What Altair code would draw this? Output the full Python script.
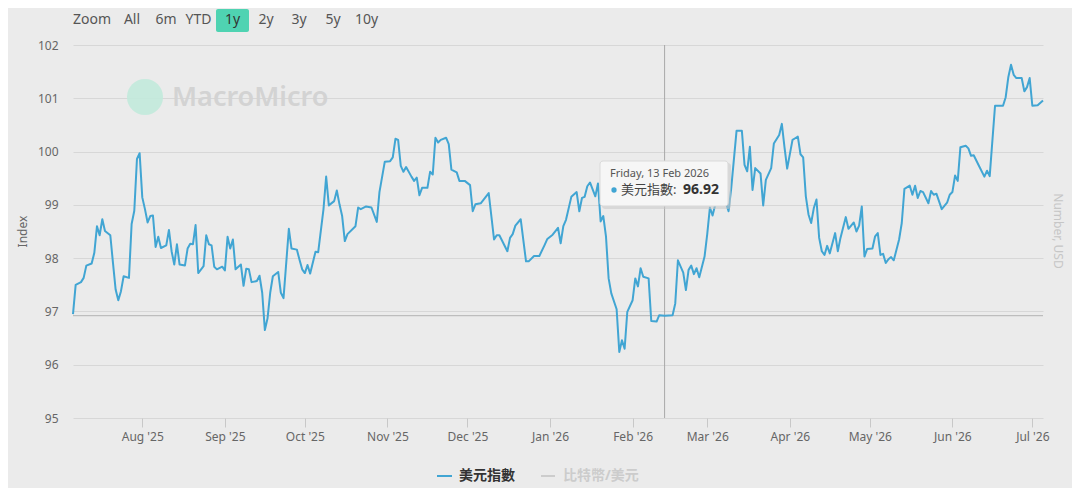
import altair as alt
import pandas as pd

# ---------------- data ----------------
dates = [
    "2025-07-06", "2025-07-07", "2025-07-09", "2025-07-10", "2025-07-11", "2025-07-13", "2025-07-14",
    "2025-07-15", "2025-07-16", "2025-07-17", "2025-07-18", "2025-07-20", "2025-07-21", "2025-07-22",
    "2025-07-23", "2025-07-24", "2025-07-25", "2025-07-27", "2025-07-28", "2025-07-29", "2025-07-30",
    "2025-07-31", "2025-08-01", "2025-08-02", "2025-08-03", "2025-08-04", "2025-08-05", "2025-08-06",
    "2025-08-07", "2025-08-08", "2025-08-10", "2025-08-11", "2025-08-12", "2025-08-13", "2025-08-14",
    "2025-08-15", "2025-08-17", "2025-08-18", "2025-08-19", "2025-08-20", "2025-08-21", "2025-08-22",
    "2025-08-24", "2025-08-25", "2025-08-26", "2025-08-27", "2025-08-28", "2025-08-29", "2025-08-31",
    "2025-09-01", "2025-09-02", "2025-09-03", "2025-09-04", "2025-09-05", "2025-09-07", "2025-09-08",
    "2025-09-09", "2025-09-10", "2025-09-11", "2025-09-13", "2025-09-14", "2025-09-15", "2025-09-16",
    "2025-09-17", "2025-09-18", "2025-09-19", "2025-09-21", "2025-09-22", "2025-09-23", "2025-09-25",
    "2025-09-26", "2025-09-28", "2025-09-29", "2025-09-30", "2025-10-01", "2025-10-02", "2025-10-03",
    "2025-10-05", "2025-10-06", "2025-10-08", "2025-10-09", "2025-10-10", "2025-10-12", "2025-10-13",
    "2025-10-14", "2025-10-15", "2025-10-16", "2025-10-17", "2025-10-20", "2025-10-21", "2025-10-22",
    "2025-10-24", "2025-10-26", "2025-10-28", "2025-10-29", "2025-10-31", "2025-11-02", "2025-11-03",
    "2025-11-04", "2025-11-05", "2025-11-06", "2025-11-07", "2025-11-08", "2025-11-10", "2025-11-11",
    "2025-11-12", "2025-11-13", "2025-11-14", "2025-11-16", "2025-11-17", "2025-11-18", "2025-11-19",
    "2025-11-20", "2025-11-21", "2025-11-23", "2025-11-24", "2025-11-25", "2025-11-27", "2025-11-28",
    "2025-11-30", "2025-12-02", "2025-12-03", "2025-12-04", "2025-12-06", "2025-12-09", "2025-12-11",
    "2025-12-12", "2025-12-13", "2025-12-16", "2025-12-17", "2025-12-18", "2025-12-19", "2025-12-21",
    "2025-12-23", "2025-12-24", "2025-12-26", "2025-12-28", "2025-12-30", "2025-12-31", "2026-01-02",
    "2026-01-04", "2026-01-05", "2026-01-06", "2026-01-07", "2026-01-09", "2026-01-11", "2026-01-12",
    "2026-01-13", "2026-01-14", "2026-01-15", "2026-01-16", "2026-01-17", "2026-01-18", "2026-01-19",
    "2026-01-20", "2026-01-21", "2026-01-22", "2026-01-23", "2026-01-24", "2026-01-26", "2026-01-27",
    "2026-01-28", "2026-01-29", "2026-01-30", "2026-02-01", "2026-02-02", "2026-02-03", "2026-02-04",
    "2026-02-05", "2026-02-07", "2026-02-08", "2026-02-10", "2026-02-11", "2026-02-13", "2026-02-16",
    "2026-02-17", "2026-02-18", "2026-02-20", "2026-02-21", "2026-02-22", "2026-02-23", "2026-02-24",
    "2026-02-25", "2026-02-26", "2026-02-28", "2026-03-01", "2026-03-02", "2026-03-03", "2026-03-04",
    "2026-03-06", "2026-03-07", "2026-03-09", "2026-03-10", "2026-03-12", "2026-03-14", "2026-03-15",
    "2026-03-16", "2026-03-17", "2026-03-18", "2026-03-19", "2026-03-21", "2026-03-22", "2026-03-23",
    "2026-03-25", "2026-03-26", "2026-03-28", "2026-03-29", "2026-03-30", "2026-03-31", "2026-04-02",
    "2026-04-03", "2026-04-04", "2026-04-05", "2026-04-06", "2026-04-07", "2026-04-08", "2026-04-09",
    "2026-04-10", "2026-04-11", "2026-04-12", "2026-04-13", "2026-04-14", "2026-04-15", "2026-04-16",
    "2026-04-18", "2026-04-19", "2026-04-20", "2026-04-22", "2026-04-23", "2026-04-25", "2026-04-26",
    "2026-04-27", "2026-04-28", "2026-04-29", "2026-04-30", "2026-05-02", "2026-05-03", "2026-05-04",
    "2026-05-05", "2026-05-06", "2026-05-07", "2026-05-08", "2026-05-09", "2026-05-10", "2026-05-12",
    "2026-05-13", "2026-05-14", "2026-05-16", "2026-05-17", "2026-05-18", "2026-05-19", "2026-05-20",
    "2026-05-21", "2026-05-23", "2026-05-24", "2026-05-25", "2026-05-26", "2026-05-28", "2026-05-30",
    "2026-05-31", "2026-06-01", "2026-06-02", "2026-06-03", "2026-06-04", "2026-06-06", "2026-06-07",
    "2026-06-08", "2026-06-09", "2026-06-11", "2026-06-13", "2026-06-14", "2026-06-15", "2026-06-17",
    "2026-06-20", "2026-06-21", "2026-06-22", "2026-06-23", "2026-06-24", "2026-06-25", "2026-06-27",
    "2026-06-28", "2026-06-29", "2026-06-30", "2026-07-01", "2026-07-03", "2026-07-05",
]
values = [
    96.95, 97.50, 97.55, 97.63, 97.86, 97.90, 98.10,
    98.60, 98.43, 98.73, 98.51, 98.43, 97.91, 97.41,
    97.21, 97.38, 97.66, 97.63, 98.64, 98.89, 99.86,
    99.97, 99.14, 98.92, 98.67, 98.79, 98.80, 98.21,
    98.40, 98.19, 98.24, 98.53, 98.13, 97.88, 98.26,
    97.88, 97.86, 98.18, 98.27, 98.26, 98.62, 97.72,
    97.85, 98.43, 98.26, 98.24, 97.84, 97.79, 97.84,
    97.77, 98.40, 98.18, 98.35, 97.79, 97.88, 97.48,
    97.80, 97.79, 97.55, 97.57, 97.67, 97.35, 96.65,
    96.87, 97.35, 97.66, 97.74, 97.35, 97.25, 98.55,
    98.18, 98.16, 97.97, 97.79, 97.72, 97.87, 97.71,
    98.12, 98.11, 98.92, 99.53, 98.99, 99.07, 99.27,
    99.01, 98.79, 98.32, 98.45, 98.60, 98.95, 98.92,
    98.97, 98.95, 98.68, 99.24, 99.81, 99.82, 99.89,
    100.24, 100.22, 99.73, 99.62, 99.71, 99.53, 99.45,
    99.51, 99.18, 99.32, 99.32, 99.62, 99.57, 100.26,
    100.17, 100.22, 100.26, 100.14, 99.66, 99.61, 99.45,
    99.45, 99.37, 98.88, 99.01, 99.03, 99.22, 98.35,
    98.43, 98.43, 98.13, 98.38, 98.45, 98.61, 98.73,
    97.94, 97.94, 98.04, 98.04, 98.25, 98.36, 98.44,
    98.57, 98.28, 98.60, 98.72, 99.15, 99.24, 98.88,
    99.13, 99.15, 99.35, 99.42, 99.29, 99.16, 99.40,
    98.69, 98.79, 98.41, 97.62, 97.34, 97.04, 96.24,
    96.46, 96.30, 96.99, 97.21, 97.62, 97.47, 97.81,
    97.65, 97.62, 96.82, 96.81, 96.93, 96.92, 96.93,
    97.15, 97.96, 97.73, 97.40, 97.78, 97.86, 97.70,
    97.81, 97.64, 98.03, 98.45, 98.95, 98.80, 99.00,
    99.15, 99.20, 98.88, 99.31, 100.39, 100.39, 99.75,
    99.63, 100.09, 99.28, 99.69, 99.59, 98.99, 99.47,
    99.69, 100.15, 100.31, 100.52, 100.08, 99.68, 100.22,
    100.25, 100.28, 99.95, 99.89, 99.16, 98.82, 98.66,
    98.94, 99.10, 98.38, 98.13, 98.06, 98.23, 98.09,
    98.47, 98.13, 98.38, 98.77, 98.55, 98.67, 98.50,
    98.61, 98.97, 98.03, 98.17, 98.18, 98.41, 98.47,
    98.06, 98.08, 97.91, 97.98, 98.02, 97.96, 98.35,
    98.66, 99.30, 99.36, 99.19, 99.36, 99.13, 99.26,
    99.24, 99.03, 99.26, 99.19, 99.21, 98.92, 99.04,
    99.19, 99.24, 99.55, 99.45, 100.08, 100.11, 100.06,
    99.92, 99.93, 99.73, 99.53, 99.64, 99.54, 100.86,
    100.86, 101.02, 101.40, 101.63, 101.44, 101.38, 101.38,
    101.13, 101.21, 101.38, 100.86, 100.87, 100.96,
]
y_ticks = [95, 96, 97, 98, 99, 100, 101, 102]
month_ticks = [(2025, 8), (2025, 9), (2025, 10), (2025, 11), (2025, 12),
               (2026, 1), (2026, 2), (2026, 3), (2026, 4), (2026, 5), (2026, 6), (2026, 7)]
hover_date = "2026-02-13T00:00:00"
hover_value = 96.92
hover_label = "Friday, 13 Feb 2026"
series_name = "美元指數"
other_series_name = "比特幣/美元"
buttons = ["Zoom", "All", "6m", "YTD", "1y", "2y", "3y", "5y", "10y"]
selected_button = "1y"

# ---------------- layout / style (separate from data) ----------------
button_x = [19, 59, 93, 125.5, 159.5, 193, 226, 260, 293.5]
BLUE = "#41a5d3"
BG = "#ebebeb"
GRID = "#d7d7d7"
FONT = "'Noto Sans', 'Noto Sans CJK TC', sans-serif"
W, H = 970, 373

df = pd.DataFrame({"date": [d + "T00:00:00" for d in dates], "value": values})
one = pd.DataFrame({"k": [0]})

x_enc = alt.X(
    "date:T",
    title=None,
    scale=alt.Scale(domain=[alt.DateTime(year=2025, month=7, date=6),
                            alt.DateTime(year=2026, month=7, date=5)]),
    axis=alt.Axis(
        values=[alt.DateTime(year=y, month=m, date=1) for y, m in month_ticks],
        format="%b '%y", grid=False, domain=False,
        ticks=True, tickSize=9, tickColor="#c8c8c8", tickWidth=1,
        labelColor="#666666", labelFontSize=12, labelFont=FONT, labelPadding=4,
        labelFlush=False, labelOverlap=False,
    ),
)
y_enc = alt.Y(
    "value:Q",
    scale=alt.Scale(domain=[95, 102], nice=False, zero=False),
    axis=alt.Axis(
        values=y_ticks, format="d", title="Index", grid=True, gridColor=GRID, gridWidth=1,
        domain=False, ticks=False, labelColor="#666666", labelFontSize=12,
        labelFont=FONT, labelPadding=15,
        titleColor="#666666", titleFontSize=12, titleFont=FONT, titleFontWeight="normal",
        titleX=-51, titleY=186, titleAngle=270, titleAlign="center", titleBaseline="middle",
    ),
)

line = alt.Chart(df).mark_line(color=BLUE, strokeWidth=2, strokeJoin="round").encode(x=x_enc, y=y_enc)

hrule = alt.Chart(pd.DataFrame({"value": [hover_value]})).mark_rule(
    color="#b3b3b3", strokeWidth=1).encode(y="value:Q")
vrule = alt.Chart(pd.DataFrame({"date": [hover_date]})).mark_rule(
    color="#a9a9a9", strokeWidth=1).encode(x="date:T")

# watermark
logo_circle = alt.Chart(one).mark_point(filled=True, shape="circle", size=1300, color="#c2eadc",
                                         opacity=0.9).encode(x=alt.value(72), y=alt.value(52))
logo_text = alt.Chart(one).mark_text(text="MacroMicro", font=FONT, fontSize=27, fontWeight=600,
                                     color="#d3d3d3", align="left", baseline="middle").encode(
    x=alt.value(99), y=alt.value(53))

# range buttons
btn_box = alt.Chart(one).mark_rect(color="#4fd3b2", cornerRadius=2).encode(
    x=alt.value(143), x2=alt.value(176), y=alt.value(-36), y2=alt.value(-13))
btn_layers = []
for lab, bx in zip(buttons, button_x):
    btn_layers.append(
        alt.Chart(one).mark_text(text=lab, font=FONT, fontSize=14,
                                 color="#333333" if lab == selected_button else "#555555",
                                 align="center", baseline="middle").encode(
            x=alt.value(bx), y=alt.value(-25)))

# right-hand axis title
right_title = alt.Chart(one).mark_text(text="Number, USD", font=FONT, fontSize=12, color="#c6c6c6",
                                       angle=90, align="center", baseline="middle").encode(
    x=alt.value(985), y=alt.value(186))

# tooltip
tip_shadow = alt.Chart(one).mark_rect(color="#c9c9c9", opacity=0.55, cornerRadius=3).encode(
    x=alt.value(529), x2=alt.value(658), y=alt.value(118), y2=alt.value(164))
tip_box = alt.Chart(one).mark_rect(fill="#f6f6f6", stroke="#d9d9d9", strokeWidth=1, cornerRadius=3).encode(
    x=alt.value(527), x2=alt.value(655), y=alt.value(116), y2=alt.value(161))
tip_date = alt.Chart(one).mark_text(text=hover_label, font=FONT, fontSize=11, color="#555555",
                                    align="left", baseline="middle").encode(
    x=alt.value(537), y=alt.value(129))
tip_dot = alt.Chart(one).mark_point(filled=True, shape="circle", size=28, color=BLUE, opacity=1).encode(
    x=alt.value(541), y=alt.value(145))
tip_name = alt.Chart(one).mark_text(text=series_name + ":", font=FONT, fontSize=13, color="#444444",
                                    align="left", baseline="middle").encode(
    x=alt.value(548), y=alt.value(145))
tip_val = alt.Chart(one).mark_text(text=f"{hover_value:.2f}", font=FONT, fontSize=14, fontWeight="bold",
                                   color="#333333", align="left", baseline="middle").encode(
    x=alt.value(610), y=alt.value(145))

# legend
LEG_Y = 431
leg1_line = alt.Chart(one).mark_rule(color=BLUE, strokeWidth=2).encode(
    x=alt.value(364), x2=alt.value(379), y=alt.value(LEG_Y))
leg1_text = alt.Chart(one).mark_text(text=series_name, font=FONT, fontSize=14, fontWeight="bold",
                                     color="#333333", align="left", baseline="middle").encode(
    x=alt.value(386), y=alt.value(LEG_Y))
leg2_line = alt.Chart(one).mark_rule(color="#cccccc", strokeWidth=2).encode(
    x=alt.value(468), x2=alt.value(482), y=alt.value(LEG_Y))
leg2_text = alt.Chart(one).mark_text(text=other_series_name, font=FONT, fontSize=14, fontWeight="bold",
                                     color="#cccccc", align="left", baseline="middle").encode(
    x=alt.value(490), y=alt.value(LEG_Y))

chart = alt.layer(
    logo_circle, logo_text, hrule, vrule, line,
    tip_shadow, tip_box, tip_date, tip_dot, tip_name, tip_val,
    btn_box, *btn_layers, right_title,
    leg1_line, leg1_text, leg2_line, leg2_text,
).properties(
    width=W, height=H,
    padding={"left": 65, "top": 37, "right": 29, "bottom": 70},
    autosize=alt.AutoSizeParams(type="none"),
    background=BG,
).configure_view(strokeWidth=0)

chart.save("out.html", embed_options={"renderer": "svg", "actions": False})
